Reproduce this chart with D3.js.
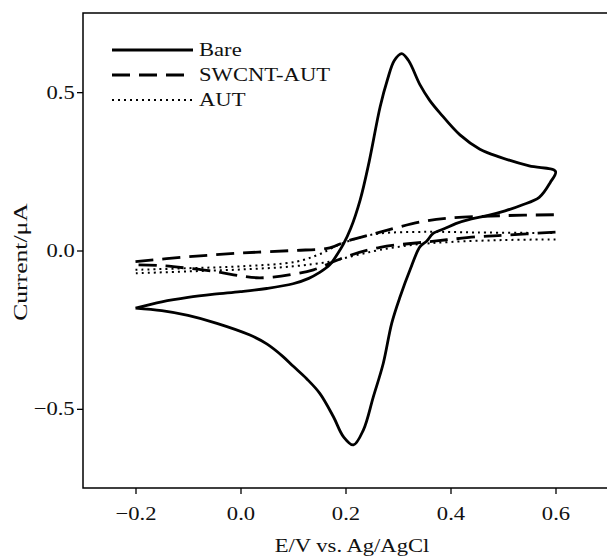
<!DOCTYPE html>
<html><head><meta charset="utf-8">
<script src="https://cdn.jsdelivr.net/npm/d3@7"></script>
<style>body{margin:0;background:#fff}svg{display:block}text{font-family:"Liberation Serif","Times New Roman",serif}</style>
</head><body>
<svg id="c" width="607" height="558"></svg>
<script>
const seriesNames = ["Bare", "SWCNT-AUT", "AUT"];
// Bare electrode: full cycle starting at -0.2 V
const bareE = [-0.2,-0.15,-0.1,-0.05,0.0,0.05,0.1,0.13,0.15,0.17,0.185,0.196,0.21,0.228,0.245,0.266,0.28,0.293,0.307,0.32,0.342,0.36,0.38,0.418,0.456,0.494,0.55,0.6,
  0.59,0.569,0.535,0.504,0.47,0.44,0.41,0.39,0.367,0.355,0.342,0.323,0.304,0.288,0.272,0.253,0.234,0.215,0.196,0.177,0.151,0.126,0.1,0.081,0.05,0.018,-0.045,-0.1,-0.15,-0.2];
const bareI = [-0.182,-0.162,-0.148,-0.138,-0.13,-0.12,-0.105,-0.088,-0.07,-0.045,-0.01,0.02,0.07,0.16,0.28,0.454,0.54,0.6,0.622,0.6,0.523,0.475,0.434,0.365,0.32,0.295,0.267,0.25,
  0.215,0.168,0.143,0.125,0.11,0.1,0.085,0.07,0.054,0.03,0.012,-0.061,-0.146,-0.23,-0.356,-0.462,-0.567,-0.614,-0.588,-0.525,-0.451,-0.405,-0.365,-0.335,-0.295,-0.267,-0.23,-0.205,-0.19,-0.182];
// SWCNT-AUT: forward (anodic) and reverse branches
const swFwdE = [-0.2,-0.1,0.0,0.1,0.17,0.2,0.266,0.342,0.393,0.5,0.6];
const swFwdI = [-0.035,-0.02,-0.008,0.0,0.008,0.028,0.058,0.09,0.102,0.11,0.113];
const swRevE = [0.6,0.5,0.456,0.393,0.348,0.266,0.202,0.139,0.1,0.062,0.03,0.0,-0.05,-0.1,-0.15,-0.2];
const swRevI = [0.058,0.048,0.044,0.034,0.026,0.01,-0.019,-0.061,-0.075,-0.084,-0.086,-0.08,-0.066,-0.056,-0.048,-0.045];
// AUT: forward and reverse branches
const autFwdE = [-0.2,-0.1,0.0,0.107,0.15,0.19,0.23,0.266,0.355,0.45,0.6];
const autFwdI = [-0.061,-0.056,-0.05,-0.035,-0.012,0.02,0.042,0.054,0.059,0.057,0.055];
const autRevE = [0.6,0.5,0.4,0.33,0.266,0.22,0.17,0.1,0.0,-0.1,-0.2];
const autRevI = [0.035,0.033,0.027,0.018,0.002,-0.015,-0.035,-0.05,-0.06,-0.066,-0.072];
const xTicks = [-0.2, 0.0, 0.2, 0.4, 0.6];
const yTicks = [-0.5, 0.0, 0.5];

const svg = d3.select("#c");
const L = 83, R = 608, T = 13, B = 488;
const SX = 1.19, FS = "19px";
const x = d3.scaleLinear().domain([-0.3, 0.7]).range([L, R]);
const y = d3.scaleLinear().domain([-0.75, 0.75]).range([B, T]);

const fmt = d3.format(".1f");
const gx = svg.append("g").attr("transform", `translate(0,${B})`)
  .call(d3.axisBottom(x).tickValues(xTicks).tickFormat(fmt).tickSize(6).tickSizeOuter(0).tickPadding(13));
const gy = svg.append("g").attr("transform", `translate(${L},0)`)
  .call(d3.axisLeft(y).tickValues(yTicks).tickFormat(fmt).tickSize(6).tickSizeOuter(0).tickPadding(1));
[gx, gy].forEach(g => {
  g.select(".domain").remove();
  g.selectAll("line").attr("stroke", "#000").attr("stroke-width", 1.3);
  g.selectAll("text").attr("fill", "#111").style("font-size", FS)
    .style("font-family", "'Liberation Serif',serif").attr("transform", `scale(${SX},1)`);
});

svg.append("path")
  .attr("d", `M${R},${T}H${L}V${B}H${R}`)
  .attr("fill", "none").attr("stroke", "#000").attr("stroke-width", 1.5);

const line = d3.line().x(d => x(d[0])).y(d => y(d[1])).curve(d3.curveCatmullRom.alpha(0.5));
const styles = [
  {w: 2.8, dash: null, cap: "butt"},
  {w: 2.8, dash: "18,9", cap: "butt"},
  {w: 2, dash: "2,4", cap: "butt"}
];
const paths = [
  [0, d3.zip(bareE, bareI)],
  [1, d3.zip(swFwdE, swFwdI)], [1, d3.zip(swRevE, swRevI)],
  [2, d3.zip(autFwdE, autFwdI)], [2, d3.zip(autRevE, autRevI)]
];
paths.forEach(([k, d]) => {
  svg.append("path").datum(d).attr("d", line)
    .attr("fill", "none").attr("stroke", "#000")
    .attr("stroke-width", styles[k].w)
    .attr("stroke-dasharray", styles[k].dash)
    .attr("stroke-linecap", styles[k].cap)
    .attr("stroke-linejoin", "round");
});

// legend
const lg = svg.append("g");
seriesNames.forEach((n, k) => {
  const yy = 50 + k * 25;
  lg.append("line").attr("x1", 112).attr("x2", 193).attr("y1", yy).attr("y2", yy)
    .attr("stroke", "#000").attr("stroke-width", styles[k].w)
    .attr("stroke-dasharray", styles[k].dash);
  lg.append("text").attr("transform", `translate(199,${yy + 6}) scale(${SX},1)`).text(n)
    .style("font-size", FS).attr("fill", "#111");
});

svg.append("text").attr("transform", `translate(352,552) scale(${SX},1)`).attr("text-anchor", "middle")
  .style("font-size", FS).attr("fill", "#111").text("E/V vs. Ag/AgCl");
svg.append("text").attr("transform", "translate(27,262) rotate(-90) scale(1.35,1)").attr("text-anchor", "middle")
  .style("font-size", FS).attr("fill", "#111").text("Current/μA");
</script>
</body></html>
